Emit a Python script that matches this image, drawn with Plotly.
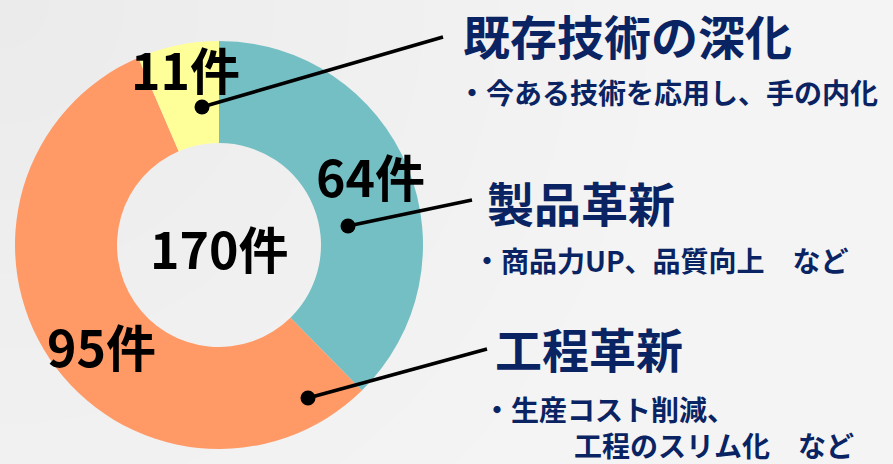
import plotly.graph_objects as go

categories = ["製品革新", "工程革新", "既存技術の深化"]
values = [64, 95, 11]
colors = ["#74BFC4", "#FF9966", "#FFFF99"]
count_labels = ["64件", "95件", "11件"]
total_label = "170件"
subtitles = [["・商品力UP、品質向上　など"],
             ["・生産コスト削減、", "工程のスリム化　など"],
             ["・今ある技術を応用し、手の内化"]]

W, H = 893, 464
def px(x): return x / W
def py(y): return 1 - y / H

fig = go.Figure()
fig.add_trace(go.Pie(
    labels=categories, values=values, hole=0.5, sort=False, direction="clockwise",
    rotation=0, marker=dict(colors=colors, line=dict(width=0)),
    textinfo="none", hoverinfo="label+value", showlegend=False,
    domain=dict(x=[px(15), px(423)], y=[py(450), py(40)]),
))

FONT = "Noto Sans CJK JP"
NAVY = "#0A2463"
shapes = []
# soft radial background shading from top-left corner
for r in range(650, 40, -75):
    shapes.append(dict(type="circle", xref="paper", yref="paper",
                       x0=px(-r), x1=px(r), y0=py(r), y1=py(-r),
                       fillcolor="rgba(0,0,0,0.0055)", line=dict(width=0), layer="below"))

# leader lines and dots
leaders = [((348, 226), (472, 200)), ((308, 398), (487, 349)), ((202, 107), (443, 37))]
for (x0, y0), (x1, y1) in leaders:
    shapes.append(dict(type="line", xref="paper", yref="paper", x0=px(x0), y0=py(y0),
                       x1=px(x1), y1=py(y1), line=dict(color="black", width=3.5)))
    r = 7.5
    shapes.append(dict(type="circle", xref="paper", yref="paper", x0=px(x0 - r), x1=px(x0 + r),
                       y0=py(y0 + r), y1=py(y0 - r), fillcolor="black", line=dict(width=0)))

annotations = []
count_pos = [(370, 175), (101, 345), (185, 68)]
for lab, (x, y) in zip(count_labels, count_pos):
    annotations.append(dict(text=f"<b>{lab}</b>", x=px(x), y=py(y), xref="paper", yref="paper",
                            showarrow=False, font=dict(family=FONT, size=50, color="black"),
                            xanchor="center", yanchor="middle"))
annotations.append(dict(text=f"<b>{total_label}</b>", x=px(219), y=py(247), xref="paper", yref="paper",
                        showarrow=False, font=dict(family=FONT, size=50, color="black"),
                        xanchor="center", yanchor="middle"))

title_pos = [(485, 202), (493, 347), (461, 34)]
for lab, (x, y) in zip(categories, title_pos):
    annotations.append(dict(text=f"<b>{lab}</b>", x=px(x), y=py(y), xref="paper", yref="paper",
                            showarrow=False, font=dict(family=FONT, size=47, color=NAVY),
                            xanchor="left", yanchor="middle"))
sub_pos = [[(472, 260)], [(482, 409), (573, 445)], [(457, 92)]]
for lines, poss in zip(subtitles, sub_pos):
    for line, (x, y) in zip(lines, poss):
        annotations.append(dict(text=f"<b>{line}</b>", x=px(x), y=py(y), xref="paper", yref="paper",
                                showarrow=False, font=dict(family=FONT, size=28, color=NAVY),
                                xanchor="left", yanchor="middle", align="left", borderpad=0))

fig.update_layout(width=W, height=H, margin=dict(l=0, r=0, t=0, b=0),
                  paper_bgcolor="#f4f4f4", plot_bgcolor="#f4f4f4",
                  shapes=shapes, annotations=annotations)
fig.write_html("out.html", config=dict(displayModeBar=False),
               post_script="document.body.style.margin='0';document.body.style.overflow='hidden';")
